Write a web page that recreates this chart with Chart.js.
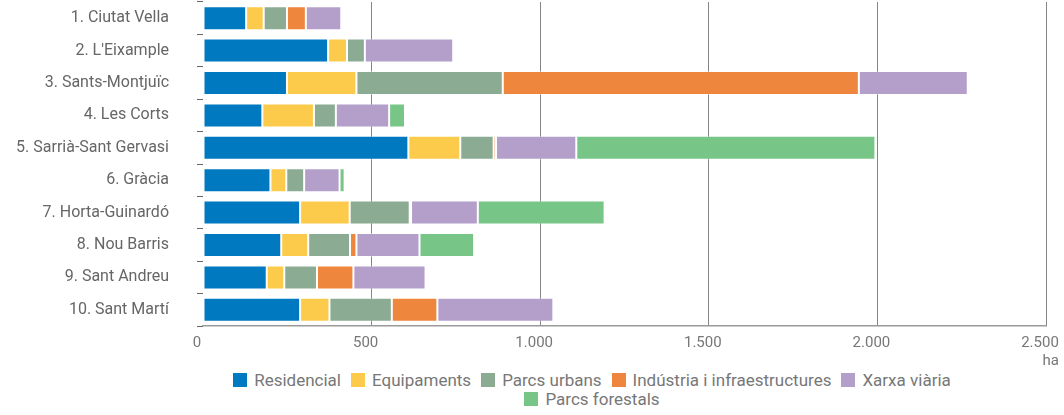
<!DOCTYPE html>
<html lang="ca">
<head>
<meta charset="utf-8">
<title>Usos del sòl per districte</title>
<script src="https://cdn.jsdelivr.net/npm/chart.js@4/dist/chart.umd.min.js"></script>
<style>
  html, body { margin: 0; padding: 0; background: #fff; }
  #wrap { position: relative; width: 1064px; height: 415px; overflow: hidden; }
  #grafic { position: absolute; left: 0; top: 0; }
  #llegenda {
    position: absolute; left: 192px; width: 800px; top: 371px;
    display: flex; flex-wrap: wrap; justify-content: center;
    column-gap: 10px; row-gap: 1px;
    font-family: Roboto, "Liberation Sans", sans-serif; font-size: 17px; color: #777;
  }
  #llegenda span.item { display: flex; align-items: center; height: 18px; white-space: nowrap; }
  #llegenda span.caixa { width: 14px; height: 14px; margin-right: 7px; display: inline-block; }
</style>
</head>
<body>
<div id="wrap">
  <canvas id="grafic" width="1064" height="365"></canvas>
  <div id="llegenda"></div>
</div>
<script>
// Districtes (categories de l'eix vertical)
const districtes = ['1. Ciutat Vella', "2. L'Eixample", '3. Sants-Montjuïc', '4. Les Corts',
  '5. Sarrià-Sant Gervasi', '6. Gràcia', '7. Horta-Guinardó', '8. Nou Barris',
  '9. Sant Andreu', '10. Sant Martí'];

// Superfície per ús del sòl (ha), llegida del gràfic
const residencial    = [128, 371, 249, 176, 609, 200, 288, 232, 189, 288];
const equipaments    = [52, 56, 206, 153, 154, 47, 147, 80, 52, 87];
const parcsUrbans    = [69, 53, 434, 65, 99, 53, 178, 124, 97, 185];
const industria      = [56, 0, 1056, 0, 7, 0, 4, 19, 108, 135];
const xarxaViaria    = [105, 262, 323, 158, 238, 105, 198, 187, 214, 344];
const parcsForestals = [0, 0, 0, 47, 887, 15, 376, 162, 0, 0];

// Etiquetes de l'eix horitzontal
const ticksX = [0, 500, 1000, 1500, 2000, 2500];
const etiquetesX = ['0', '500', '1.000', '1.500', '2.000', '2.500'];
const unitat = 'ha';

const series = [
  { nom: 'Residencial', dades: residencial, color: '#0079c1' },
  { nom: 'Equipaments', dades: equipaments, color: '#fdcb4b' },
  { nom: 'Parcs urbans', dades: parcsUrbans, color: '#8bab92' },
  { nom: 'Indústria i infraestructures', dades: industria, color: '#ef863e' },
  { nom: 'Xarxa viària', dades: xarxaViaria, color: '#b49fcb' },
  { nom: 'Parcs forestals', dades: parcsForestals, color: '#78c588' }
];

const FONT = 'Roboto, "Liberation Sans", sans-serif';
const MIDA_TICKS = 15;
const LABEL_OFFSET = -6;

// Plugin petit per escriure la unitat sota l'última etiqueta
const unitatPlugin = {
  id: 'unitat',
  afterDraw(chart) {
    const x = chart.scales.x;
    const ctx = chart.ctx;
    ctx.save();
    ctx.font = MIDA_TICKS + 'px ' + FONT;
    const w = ctx.measureText(etiquetesX[etiquetesX.length - 1]).width;
    const dreta = x.getPixelForValue(ticksX[ticksX.length - 1]) + LABEL_OFFSET + w / 2;
    ctx.fillStyle = '#777';
    ctx.textAlign = 'right';
    ctx.textBaseline = 'middle';
    ctx.fillText(unitat, dreta, 361);
    ctx.restore();
  }
};

new Chart(document.getElementById('grafic'), {
  type: 'bar',
  data: {
    labels: districtes,
    datasets: series.map(s => ({
      label: s.nom,
      data: s.dades,
      backgroundColor: s.color,
      borderColor: 'rgba(255,255,255,0.4)',
      borderWidth: 1,
      borderSkipped: false,
      barPercentage: 0.74,
      categoryPercentage: 1
    }))
  },
  options: {
    indexAxis: 'y',
    responsive: false,
    animation: false,
    layout: { padding: { top: 2, right: 18, left: 0, bottom: 0 } },
    plugins: {
      legend: { display: false },
      tooltip: { enabled: false }
    },
    scales: {
      x: {
        stacked: true,
        min: 0,
        max: 2500,
        afterBuildTicks(scale) {
          scale.ticks = ticksX.map(v => ({ value: v }));
        },
        afterFit(scale) {
          scale.paddingLeft = 0;
          scale.paddingRight = 0;
          scale.height = 39;
        },
        ticks: {
          callback: (v, i) => etiquetesX[i],
          color: '#777',
          font: { family: FONT, size: MIDA_TICKS },
          padding: 8,
          labelOffset: LABEL_OFFSET,
          maxRotation: 0
        },
        grid: {
          color: ctx => ctx.index === 0 ? 'rgba(0,0,0,0)' : '#858585',
          lineWidth: 1,
          drawTicks: false
        },
        border: { display: true, color: '#9a9a9a', width: 1.5 }
      },
      y: {
        stacked: true,
        afterFit(scale) {
          // amplada fixa i sense el farciment que afegeix el padding dels ticks
          scale.width = 203;
          scale.paddingTop = 0;
          scale.paddingBottom = 0;
        },
        ticks: {
          color: '#666',
          font: { family: FONT, size: 16 },
          padding: 28
        },
        grid: {
          drawOnChartArea: false,
          drawTicks: true,
          tickLength: 6,
          color: '#666',
          offset: true
        },
        border: { display: false }
      }
    }
  },
  plugins: [unitatPlugin]
});

// Llegenda en HTML, centrada com a l'original
const llegenda = document.getElementById('llegenda');
series.forEach(s => {
  const item = document.createElement('span');
  item.className = 'item';
  const caixa = document.createElement('span');
  caixa.className = 'caixa';
  caixa.style.background = s.color;
  item.appendChild(caixa);
  item.appendChild(document.createTextNode(s.nom));
  llegenda.appendChild(item);
});
</script>
</body>
</html>
